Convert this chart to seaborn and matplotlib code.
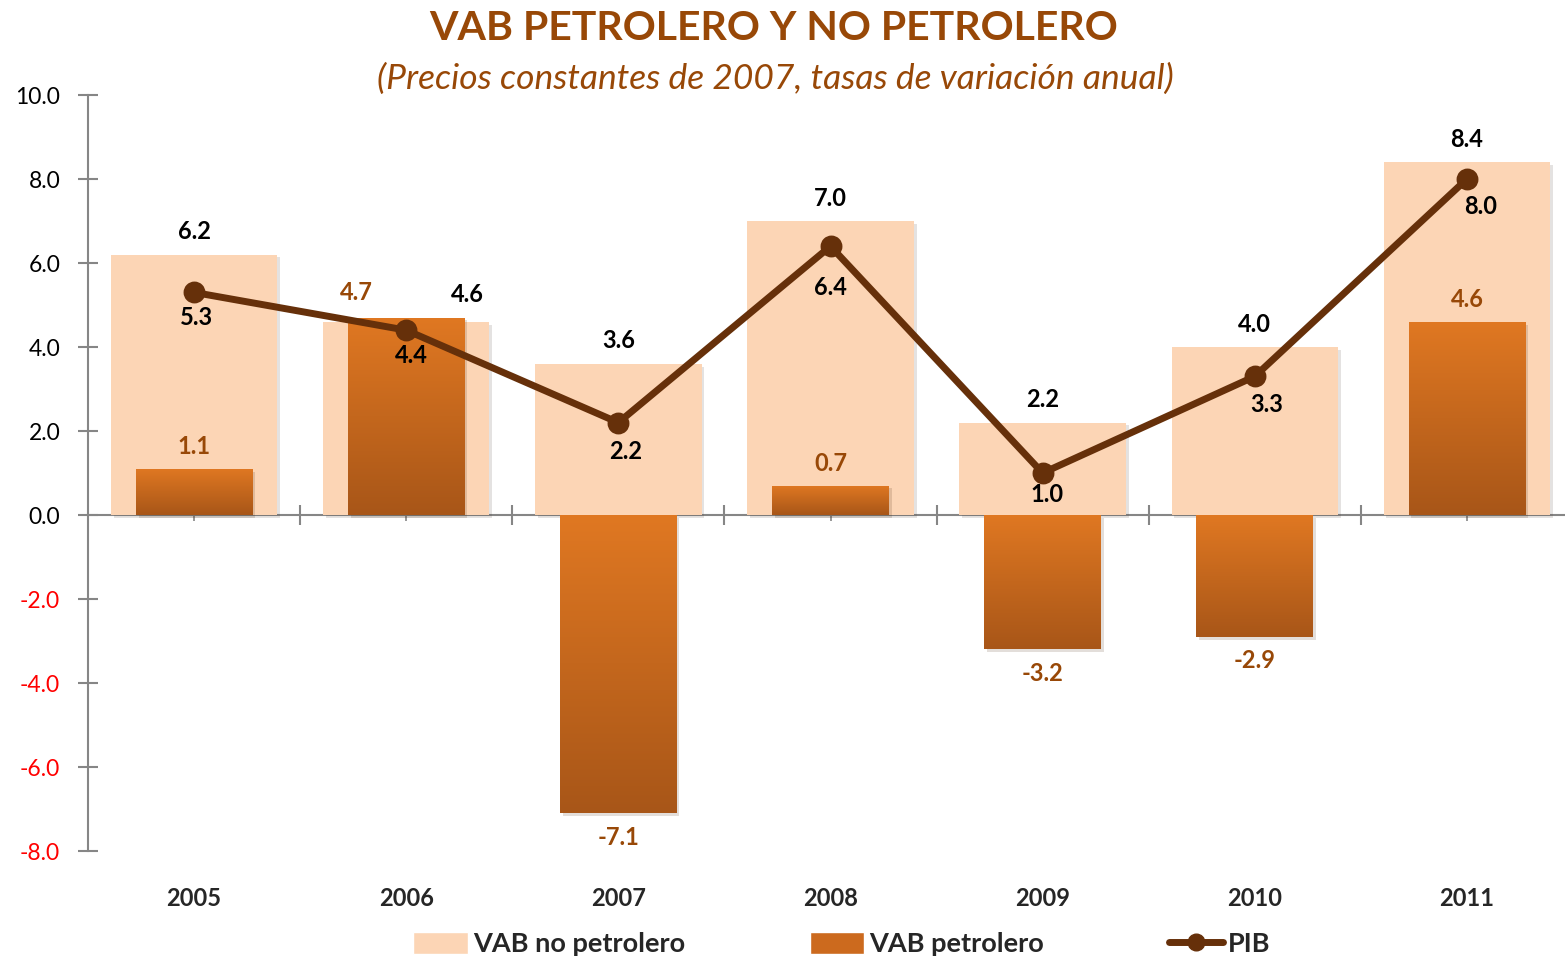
import numpy as np
import matplotlib
matplotlib.use("Agg")
import matplotlib.pyplot as plt
import matplotlib.patheffects as pe
from matplotlib.colors import LinearSegmentedColormap
from matplotlib.patches import Patch
from matplotlib.lines import Line2D
import seaborn as sns

# data
years = ["2005", "2006", "2007", "2008", "2009", "2010", "2011"]
vab_no_petrolero = [6.2, 4.6, 3.6, 7.0, 2.2, 4.0, 8.4]
vab_petrolero = [1.1, 4.7, -7.1, 0.7, -3.2, -2.9, 4.6]
pib = [5.3, 4.4, 2.2, 6.4, 1.0, 3.3, 8.0]
y_ticks = [10.0, 8.0, 6.0, 4.0, 2.0, 0.0, -2.0, -4.0, -6.0, -8.0]

sns.set_theme(style="white")
plt.rcParams["font.family"] = ["Lato", "DejaVu Sans"]

LIGHT = "#FCD5B5"
ORANGE_TOP = "#E07822"
ORANGE_BOT = "#A85618"
LINE = "#66300A"
BROWN = "#984807"
AXIS_GREY = "#868686"

fig = plt.figure(figsize=(15.65, 9.6), dpi=100)
ax = fig.add_axes([88 / 1565, 1 - 851 / 960, 1485 / 1565, 756 / 960])

shadow = [pe.SimplePatchShadow(offset=(2, -2), alpha=0.15), pe.Normal()]

sns.barplot(x=years, y=vab_no_petrolero, color=LIGHT, saturation=1, width=0.785,
            ax=ax, zorder=1)
sns.barplot(x=years, y=vab_petrolero, color=ORANGE_TOP, saturation=1, width=0.55,
            ax=ax, zorder=2)
light_bars, dark_bars = ax.containers[0], ax.containers[1]
for p in light_bars:
    p.set_path_effects(shadow)
    p.set_edgecolor("none")

# vertical gradient on the oil bars (lighter at top)
cmap = LinearSegmentedColormap.from_list("oil", [ORANGE_BOT, ORANGE_TOP])
grad = np.linspace(1, 0, 256).reshape(-1, 1)
for p in dark_bars:
    p.set_path_effects(shadow)
    p.set_edgecolor("none")
    x0, y0 = p.get_x(), p.get_y()
    w, h = p.get_width(), p.get_height()
    lo, hi = min(y0, y0 + h), max(y0, y0 + h)
    im = ax.imshow(grad, cmap=cmap, extent=(x0, x0 + w, lo, hi), origin="upper",
                   aspect="auto", zorder=2.5, interpolation="bicubic")
    im.set_clip_path(p)

sns.pointplot(x=years, y=pib, color=LINE, errorbar=None, markers="o",
              linewidth=5, markersize=12, ax=ax, zorder=3)

ax.set_xlim(-0.5, len(years) - 0.5)
ax.set_ylim(-8, 10)

# data labels
label_kw = dict(textcoords="offset pixels", ha="center", va="center",
                fontsize=17, fontweight="bold", zorder=5)
for i, v in enumerate(vab_no_petrolero):
    dx, dy = (61, 27) if i == 1 else (0, 23)
    ax.annotate(f"{v:.1f}", xy=(i, v), xytext=(dx, dy), color="black", **label_kw)
for i, v in enumerate(vab_petrolero):
    if i == 1:
        dx, dy = (-50, 25)
    else:
        dx, dy = (0, 22) if v >= 0 else (0, -24)
    ax.annotate(f"{v:.1f}", xy=(i, v), xytext=(dx, dy), color=BROWN, **label_kw)
pib_offsets = [(2, -25), (5, -25), (7, -29), (0, -41), (4, -22), (12, -28), (14, -28)]
for i, v in enumerate(pib):
    ax.annotate(f"{v:.1f}", xy=(i, v), xytext=pib_offsets[i], color="black", **label_kw)

# axes styling
for s in ["top", "right", "bottom"]:
    ax.spines[s].set_visible(False)
ax.spines["left"].set_color(AXIS_GREY)
ax.spines["left"].set_linewidth(1.5)
ax.set_yticks(y_ticks)
ax.set_yticklabels([f"{t:.1f}" for t in y_ticks], fontsize=16.5)
for t, lab in zip(y_ticks, ax.get_yticklabels()):
    lab.set_color("red" if t < 0 else "black")
ax.tick_params(axis="y", direction="inout", length=14, width=1.5, color=AXIS_GREY, pad=13, left=True)
ax.tick_params(axis="x", length=0, pad=26, labelsize=17)
for lab in ax.get_xticklabels():
    lab.set_fontweight("bold")
ax.set_xlabel("")
ax.grid(False)

# zero axis with category separators
sec = ax.secondary_xaxis(0, transform=ax.transData)
sec.spines["bottom"].set_color(AXIS_GREY)
sec.spines["bottom"].set_linewidth(1.5)
sec.set_xticks(np.arange(len(years) - 1) + 0.5)
sec.set_xticklabels([])
sec.set_xticks(np.arange(len(years)), minor=True)
sec.tick_params(which="major", direction="inout", length=14, width=1.5, color=AXIS_GREY)
sec.tick_params(which="minor", direction="out", length=4, width=1.2, color=AXIS_GREY)

fig.text(774 / 1565, 1 - 29 / 960, "VAB PETROLERO Y NO PETROLERO", ha="center", va="center",
         fontsize=29.5, fontweight="bold", color=BROWN)
fig.text(775 / 1565, 1 - 79 / 960, "(Precios constantes de 2007, tasas de variación anual)",
         ha="center", va="center", fontsize=25.5, fontstyle="italic", color=BROWN)

handles = [Patch(facecolor=LIGHT), Patch(facecolor="#CC6A1E"),
           Line2D([], [], color=LINE, lw=5, marker="o", markersize=12)]
fig.legend(handles, ["VAB no petrolero", "VAB petrolero", "PIB"], loc="center",
           bbox_to_anchor=(842 / 1565, 1 - 944 / 960), ncol=3, frameon=False,
           prop=dict(size=19.5, weight="bold"), handlelength=2.0, handletextpad=0.2,
           columnspacing=4.6, handleheight=0.9)

fig.savefig("out.png", dpi=100, facecolor="white")
